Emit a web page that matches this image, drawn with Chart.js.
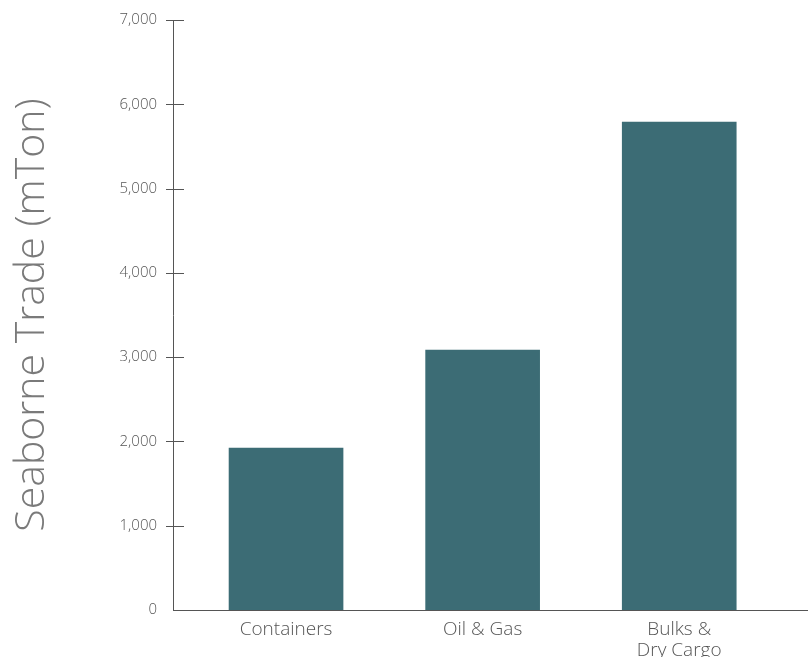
<!DOCTYPE html>
<html>
<head>
<meta charset="utf-8">
<script src="https://cdn.jsdelivr.net/npm/chart.js@4"></script>
<style>
    html, body { margin: 0; padding: 0; background: #fff; }
    #wrap { width: 808px; height: 657px; }
</style>
</head>
<body>
<div id="wrap"><canvas id="chart"></canvas></div>
<script>
var categories = ["Containers", "Oil & Gas", ["Bulks &", "Dry Cargo"]];
var tradeValues = [1920, 3085, 5790];
var yTicks = [0, 1000, 2000, 3000, 4000, 5000, 6000, 7000];

var barColor = "#3c6c75";
var axisColor = "#555555";

// short cross ticks on the y axis line
var crossTicks = {
    id: "crossTicks",
    afterDraw: function (chart) {
        var ctx = chart.ctx;
        var y = chart.scales.y;
        var x0 = chart.chartArea.left;
        ctx.save();
        ctx.strokeStyle = axisColor;
        ctx.lineWidth = 1;
        yTicks.forEach(function (v) {
            if (v === 0) return;
            var py = Math.round(y.getPixelForValue(v)) + 0.5;
            ctx.beginPath();
            ctx.moveTo(x0 - 7, py);
            ctx.lineTo(x0 + 11, py);
            ctx.stroke();
        });
        ctx.restore();
    }
};

var points = tradeValues.map(function (v, i) {
    return { x: i, y: v };
});

new Chart(document.getElementById("chart").getContext("2d"), {
    type: "bar",
    data: {
        datasets: [
            {
                data: points,
                backgroundColor: barColor,
                borderWidth: 0,
                barThickness: 114
            }
        ]
    },
    options: {
        responsive: true,
        maintainAspectRatio: false,
        animation: false,
        layout: { padding: { top: 0, right: 0, bottom: 0, left: 0 } },
        plugins: {
            legend: { display: false },
            tooltip: { enabled: false }
        },
        scales: {
            x: {
                type: "linear",
                offset: false,
                min: -0.575,
                max: 2.655,
                afterBuildTicks: function (scale) {
                    scale.ticks = [{ value: 0 }, { value: 1 }, { value: 2 }];
                },
                afterFit: function (scale) {
                    scale.height = 47;
                },
                grid: { display: false, drawTicks: false },
                border: { display: true, color: axisColor, width: 1 },
                ticks: {
                    padding: 9,
                    autoSkip: false,
                    maxRotation: 0,
                    color: "#555555",
                    font: { family: "'Open Sans', sans-serif", size: 19, weight: "300", lineHeight: 1.1 },
                    callback: function (value) {
                        return categories[value];
                    }
                }
            },
            y: {
                min: 0,
                max: 7000,
                afterBuildTicks: function (scale) {
                    scale.ticks = yTicks.map(function (v) { return { value: v }; });
                },
                afterFit: function (scale) {
                    scale.width = 173;
                    scale.paddingTop = 20;
                },
                grid: { display: false, drawTicks: false },
                border: { display: true, color: axisColor, width: 1 },
                title: {
                    display: true,
                    text: "Seaborne Trade (mTon)",
                    color: "#7a7a7a",
                    padding: { top: 8, bottom: 0 },
                    font: { family: "'Open Sans', sans-serif", size: 41, weight: "300" }
                },
                ticks: {
                    padding: 16,
                    color: "#555555",
                    font: { family: "'Open Sans', sans-serif", size: 15, weight: "300", lineHeight: 1 },
                    callback: function (value) {
                        return value.toLocaleString("en-US");
                    }
                }
            }
        }
    },
    plugins: [crossTicks]
});
</script>
</body>
</html>
